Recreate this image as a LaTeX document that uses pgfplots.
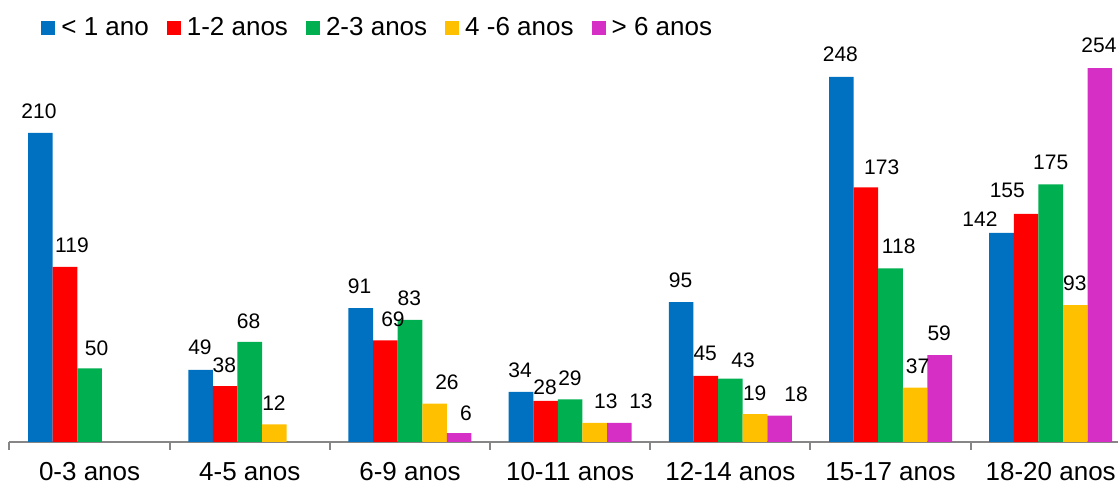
\documentclass[border=0pt]{standalone}
\usepackage{fontspec}
\setmainfont{Liberation Sans}
\usepackage{pgfplots}
\pgfplotsset{compat=1.18}

\definecolor{cblue}{HTML}{0070C0}
\definecolor{cred}{HTML}{FF0000}
\definecolor{cgreen}{HTML}{00B050}
\definecolor{cyellow}{HTML}{FFC000}
\definecolor{cmag}{HTML}{D62FC5}
\definecolor{axgray}{HTML}{868686}

\begin{document}
\begin{tikzpicture}
\begin{axis}[
  scale only axis, width=554.25pt, height=220.8pt,
  xmin=-0.5, xmax=6.42, ymin=0, ymax=300,
  axis x line*=bottom, axis y line=none,
  x axis line style={color=axgray, line width=1pt},
  xtick={0,...,6},
  xticklabels={0-3 anos,4-5 anos,6-9 anos,10-11 anos,12-14 anos,15-17 anos,18-20 anos},
  major tick length=0pt,
  extra x ticks={-0.5,0.5,1.5,2.5,3.5,4.5,5.5},
  extra x tick labels={},
  extra x tick style={major tick length=4pt, tick align=outside,
    tick style={color=axgray, line width=1pt}},
  xticklabel style={font=\fontsize{13}{15}\selectfont, anchor=base,
    inner sep=0pt, yshift=-19.3pt},
  ytick=\empty,
  clip=false,
  legend columns=-1,
  legend style={draw=none, fill=none, inner sep=0pt,
    at={(axis description cs:0.0284,0.938)}, anchor=west,
    font=\fontsize{13}{15}\selectfont,
    nodes={inner sep=0pt},
    /tikz/every even column/.append style={column sep=9pt}},
  legend image code/.code={\fill[#1] (0pt,-3.5pt) rectangle (7pt,3.5pt);
    \path (10pt,0pt);},
]
% < 1 ano
\addplot[ybar, bar width=0.1536, bar shift=-0.3072, fill=cblue, draw=none]
  coordinates {(0,210) (1,49) (2,91) (3,34) (4,95) (5,248) (6,142)};
% 1-2 anos
\addplot[ybar, bar width=0.1536, bar shift=-0.1536, fill=cred, draw=none]
  coordinates {(0,119) (1,38) (2,69) (3,28) (4,45) (5,173) (6,155)};
% 2-3 anos
\addplot[ybar, bar width=0.1536, bar shift=0, fill=cgreen, draw=none]
  coordinates {(0,50) (1,68) (2,83) (3,29) (4,43) (5,118) (6,175)};
% 4-6 anos
\addplot[ybar, bar width=0.1536, bar shift=0.1536, fill=cyellow, draw=none]
  coordinates {(1,12) (2,26) (3,13) (4,19) (5,37) (6,93)};
% > 6 anos
\addplot[ybar, bar width=0.1536, bar shift=0.3072, fill=cmag, draw=none]
  coordinates {(2,6) (3,13) (4,18) (5,59) (6,254)};
\legend{< 1 ano, 1-2 anos, 2-3 anos, 4 -6 anos, > 6 anos}

% value labels, placed as in the original
\addplot[forget plot, draw=none, mark=none, point meta=explicit symbolic,
  nodes near coords,
  every node near coord/.append style={anchor=center, inner sep=0pt,
    font=\fontsize{10.5}{12}\selectfont, text=black}]
  coordinates {
  (-0.316,224.9) [210] (-0.110,133.5) [119] (0.044,63.9) [50]
  (0.689,64.1) [49] (0.841,52.3) [38] (0.993,82.2) [68] (1.151,26.3) [12]
  (1.685,106.1) [91] (1.894,83.7) [69] (1.996,97.6) [83] (2.231,40.4) [26] (2.350,19.7) [6]
  (2.687,48.7) [34] (2.843,37.5) [28] (2.999,43.1) [29] (3.223,28.0) [13] (3.442,28.0) [13]
  (3.689,109.9) [95] (3.843,60.3) [45] (4.079,55.7) [43] (4.152,33.3) [19] (4.410,32.3) [18]
  (4.687,263.5) [248] (4.945,186.8) [173] (5.051,133.0) [118] (5.169,51.5) [37] (5.304,73.8) [59]
  (5.558,151.7) [142] (5.729,170.9) [155] (6.000,189.9) [175] (6.151,107.8) [93] (6.301,269.7) [254]
  };
\end{axis}
\pgfresetboundingbox
\path (-4.75pt,-22pt) rectangle (554.25pt,221pt);
\end{tikzpicture}
\end{document}
